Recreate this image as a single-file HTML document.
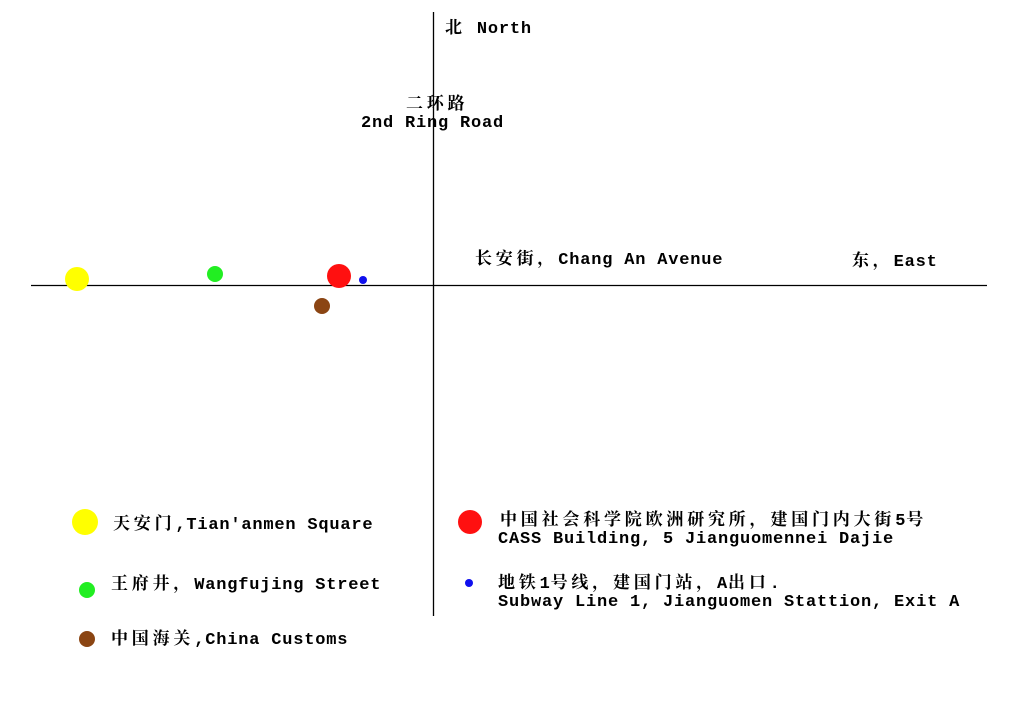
<!DOCTYPE html>
<html><head><meta charset="utf-8"><style>
body{margin:0;width:1009px;height:703px;background:#fff;position:relative;overflow:hidden;font-family:"Liberation Mono","Noto Serif CJK SC",monospace;font-weight:bold;font-size:17px;color:#000}
.t{position:absolute;white-space:nowrap;line-height:20px;height:20px;letter-spacing:0.8px}
.c{letter-spacing:3.8px;font-family:"Noto Serif CJK SC",serif;font-weight:bold;line-height:20px;font-size:17px}
</style></head><body>
<svg width="1009" height="703" style="position:absolute;left:0;top:0">
<line x1="31" y1="285.5" x2="987" y2="285.5" stroke="#000" stroke-width="1.3"/>
<line x1="433.5" y1="12" x2="433.5" y2="616" stroke="#000" stroke-width="1.3"/>
<circle cx="77" cy="279" r="12" fill="#ffff00"/>
<circle cx="215" cy="274" r="8" fill="#22ee22"/>
<circle cx="339" cy="276" r="12" fill="#ff1010"/>
<circle cx="363" cy="280" r="4" fill="#1010ee"/>
<circle cx="322" cy="306" r="8" fill="#8b4513"/>
<circle cx="85" cy="522" r="13" fill="#ffff00"/>
<circle cx="87" cy="590" r="8" fill="#22ee22"/>
<circle cx="87" cy="639" r="8" fill="#8b4513"/>
<circle cx="470" cy="522" r="12" fill="#ff1010"/>
<circle cx="469" cy="583" r="4" fill="#1010ee"/>
</svg>
<div class="t" style="left:445px;top:16px"><span class="c">北</span> North</div>
<div class="t" style="left:406px;top:92px"><span class="c">二环路</span></div>
<div class="t" style="left:361px;top:114px">2nd Ring Road</div>
<div class="t" style="left:475px;top:247px"><span class="c">长安街，</span>Chang An Avenue</div>
<div class="t" style="left:852px;top:249px"><span class="c">东，</span>East</div>
<div class="t" style="left:113px;top:512px"><span class="c">天安门</span>,Tian'anmen Square</div>
<div class="t" style="left:111px;top:572px"><span class="c">王府井，</span>Wangfujing Street</div>
<div class="t" style="left:111px;top:627px"><span class="c">中国海关</span>,China Customs</div>
<div class="t" style="left:500px;top:508px"><span class="c">中国社会科学院欧洲研究所，建国门内大街</span>5<span class="c">号</span></div>
<div class="t" style="left:498px;top:530px">CASS Building, 5 Jianguomennei Dajie</div>
<div class="t" style="left:498px;top:571px"><span class="c">地铁</span>1<span class="c">号线，建国门站，</span>A<span class="c">出口</span>.</div>
<div class="t" style="left:498px;top:593px">Subway Line 1, Jianguomen Stattion, Exit A</div>
</body></html>
